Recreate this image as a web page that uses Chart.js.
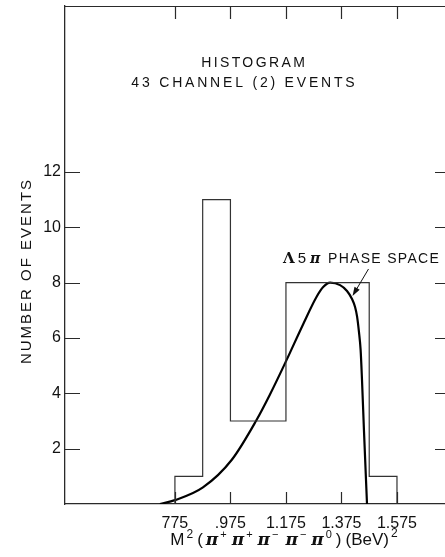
<!DOCTYPE html>
<html>
<head>
<meta charset="utf-8">
<script src="https://cdn.jsdelivr.net/npm/chart.js@4/dist/chart.umd.min.js"></script>
<style>
  html, body { margin: 0; padding: 0; background: #ffffff; }
  #wrap { width: 445px; height: 557px; }
</style>
</head>
<body>
<div id="wrap"><canvas id="c" width="445" height="557"></canvas></div>
<script>
// Histogram bins (M^2 edges, BeV^2) and event counts per bin
const binEdges = [0.775, 0.875, 0.975, 1.075, 1.175, 1.275, 1.375, 1.475, 1.575];
const binCounts = [1, 11, 3, 3, 8, 8, 8, 1];

// Lambda 5-pion phase space curve, normalised to the histogram
const phaseMass = [0.721, 0.775, 0.876, 0.980, 1.067, 1.117, 1.177, 1.237, 1.286, 1.310, 1.334, 1.370, 1.395, 1.413, 1.424, 1.431, 1.438, 1.444, 1.449, 1.456, 1.467];
const phaseEvents = [0, 0.14, 0.6, 1.6, 3.0, 3.95, 5.2, 6.5, 7.5, 7.85, 8.0, 7.91, 7.70, 7.41, 7.12, 6.79, 6.22, 5.57, 4.48, 2.67, 0];

// Axis ticks
const xTickValues = [0.775, 0.975, 1.175, 1.375, 1.575];
const xTickLabels = ['775', '.975', '1.175', '1.375', '1.575'];
const yTickValues = [2, 4, 6, 8, 10, 12];
const yTickLabels = ['2', '4', '6', '8', '10', '12'];

const FAMILY = '"Liberation Sans", Arial, Helvetica, sans-serif';
const INK = '#111111';

// Step outline: rise from the baseline at the first edge, fall back at the last
const histPoints = [{ x: binEdges[0], y: 0 }]
  .concat(binCounts.map((c, i) => ({ x: binEdges[i], y: c })))
  .concat([{ x: binEdges[binEdges.length - 1], y: 0 }]);

const curvePoints = phaseMass.map((m, i) => ({ x: m, y: phaseEvents[i] }));

function drawSpaced(ctx, text, x, y, font, spacing, align) {
  ctx.save();
  ctx.font = font;
  ctx.letterSpacing = spacing + 'px';
  const w = ctx.measureText(text).width - spacing;
  let sx = x;
  if (align === 'center') sx = x - w / 2;
  ctx.textAlign = 'left';
  ctx.fillText(text, sx, y);
  ctx.restore();
  return w;
}

// Frame details, inward tick marks and the text annotations
const decorations = {
  id: 'decorations',
  afterDraw(chart) {
    const { ctx, chartArea: a, scales: { x, y } } = chart;
    ctx.save();
    ctx.strokeStyle = '#2a2a2a';
    ctx.lineWidth = 1.2;
    ctx.beginPath();
    ctx.moveTo(a.left, a.top + 0.5);
    ctx.lineTo(a.right, a.top + 0.5);
    yTickValues.forEach(v => {
      const py = Math.round(y.getPixelForValue(v)) + 0.5;
      ctx.moveTo(a.left, py); ctx.lineTo(a.left + 15, py);
      ctx.moveTo(a.right, py); ctx.lineTo(a.right - 10, py);
    });
    xTickValues.forEach(v => {
      const px = Math.round(x.getPixelForValue(v)) + 0.5;
      ctx.moveTo(px, a.bottom); ctx.lineTo(px, a.bottom - 12);
      ctx.moveTo(px, a.top); ctx.lineTo(px, a.top + 13);
    });
    ctx.stroke();

    ctx.fillStyle = INK;
    ctx.textBaseline = 'alphabetic';

    // Title block
    drawSpaced(ctx, 'HISTOGRAM', 253, 67, '14px ' + FAMILY, 2.4, 'center');
    drawSpaced(ctx, '43 CHANNEL (2) EVENTS', 243, 87, '14px ' + FAMILY, 2.8, 'center');

    // Y axis title
    ctx.save();
    ctx.translate(31, 272);
    ctx.rotate(-Math.PI / 2);
    drawSpaced(ctx, 'NUMBER OF EVENTS', 0, 0, '15px ' + FAMILY, 2, 'center');
    ctx.restore();

    // X axis title with superscripts
    const big = '17px ' + FAMILY;
    const sup = '11px ' + FAMILY;
    const pi = 'italic bold 17px "DejaVu Serif", serif';
    const segs = [
      ['M', big, 0, 2], ['2', '12px ' + FAMILY, -7, 4], ['(', big, 0, 3],
      ['π', pi, 0, 2], ['+', sup, -7, 5], ['π', pi, 0, 2], ['+', sup, -7, 5],
      ['π', pi, 0, 2], ['−', sup, -7, 7], ['π', pi, 0, 2], ['−', sup, -7, 5],
      ['π', pi, 0, 2], ['0', sup, -7, 4], [')', big, 0, 4], ['(BeV)', big, 0, 2],
      ['2', '12px ' + FAMILY, -8, 0]
    ];
    let total = 0;
    segs.forEach(s => { ctx.font = s[1]; total += ctx.measureText(s[0]).width + s[3]; });
    let cx = 284 - total / 2;
    segs.forEach(s => {
      ctx.font = s[1];
      ctx.fillText(s[0], cx, 545 + s[2]);
      cx += ctx.measureText(s[0]).width + s[3];
    });

    // Phase space label and pointer
    let lx = 283;
    ctx.font = 'bold 15px "DejaVu Serif", serif';
    ctx.fillText('Λ', lx, 263); lx += ctx.measureText('Λ').width + 3;
    ctx.font = '15px ' + FAMILY;
    ctx.fillText('5', lx, 263); lx += ctx.measureText('5').width + 4;
    ctx.font = 'italic bold 14px "DejaVu Serif", serif';
    ctx.fillText('π', lx, 263);
    drawSpaced(ctx, 'PHASE SPACE', 328, 263, '14px ' + FAMILY, 1.3, 'left');

    const tx = x.getPixelForValue(phaseMass[13]) + 0.5;
    const ty = y.getPixelForValue(phaseEvents[13]) - 3;
    const sx = tx + 16, sy = ty - 27;
    const ang = Math.atan2(ty - sy, tx - sx);
    ctx.strokeStyle = INK;
    ctx.lineWidth = 1;
    ctx.beginPath();
    ctx.moveTo(sx, sy);
    ctx.lineTo(tx - 6 * Math.cos(ang), ty - 6 * Math.sin(ang));
    ctx.stroke();
    ctx.beginPath();
    ctx.moveTo(tx, ty);
    ctx.lineTo(tx - 9 * Math.cos(ang) + 3 * Math.sin(ang), ty - 9 * Math.sin(ang) - 3 * Math.cos(ang));
    ctx.lineTo(tx - 9 * Math.cos(ang) - 3 * Math.sin(ang), ty - 9 * Math.sin(ang) + 3 * Math.cos(ang));
    ctx.closePath();
    ctx.fill();
    ctx.restore();
  }
};

new Chart(document.getElementById('c'), {
  type: 'line',
  data: {
    datasets: [
      {
        label: 'Events',
        data: histPoints,
        stepped: 'before',
        borderColor: '#333333',
        borderWidth: 1.2,
        pointRadius: 0,
        fill: false
      },
      {
        label: 'Λ5π phase space',
        data: curvePoints,
        cubicInterpolationMode: 'monotone',
        borderColor: '#000000',
        borderWidth: 2.2,
        pointRadius: 0,
        fill: false
      }
    ]
  },
  options: {
    responsive: false,
    animation: false,
    devicePixelRatio: 1,
    layout: { padding: { top: 6, right: 0, left: 0, bottom: 0 } },
    plugins: { legend: { display: false }, tooltip: { enabled: false } },
    scales: {
      x: {
        type: 'linear',
        min: 0.379,
        max: 1.748,
        grid: { display: false, drawTicks: false },
        border: { display: true, color: '#2a2a2a', width: 1.3 },
        afterBuildTicks: s => { s.ticks = xTickValues.map(v => ({ value: v })); },
        afterFit: s => { s.height = 53; s.paddingLeft = 0; s.paddingRight = 0; },
        ticks: {
          autoSkip: false, maxRotation: 0, padding: 10, color: INK,
          font: { family: FAMILY, size: 16 },
          callback: (v, i) => xTickLabels[i]
        }
      },
      y: {
        type: 'linear',
        min: 0,
        max: 18,
        grid: { display: false, drawTicks: false },
        border: { display: true, color: '#2a2a2a', width: 1.3 },
        afterBuildTicks: s => { s.ticks = yTickValues.map(v => ({ value: v })); },
        afterFit: s => { s.width = 65; s.paddingTop = 0; s.paddingBottom = 0; },
        ticks: {
          padding: 4, color: INK,
          font: { family: FAMILY, size: 16 },
          callback: (v, i) => yTickLabels[i]
        }
      }
    }
  },
  plugins: [decorations]
});
</script>
</body>
</html>
